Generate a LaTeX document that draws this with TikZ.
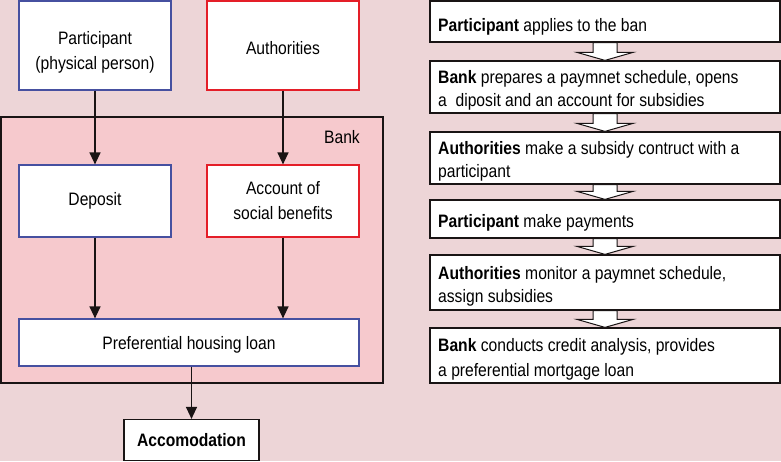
\documentclass[tikz,border=0pt]{standalone}
\usepackage{fontspec}
\setmainfont{Liberation Sans}[FakeStretch=0.87]
\usetikzlibrary{arrows.meta,calc}
\definecolor{bgpink}{RGB}{237,213,215}
\definecolor{bankpink}{RGB}{246,201,205}
\definecolor{bblue}{RGB}{70,80,160}
\definecolor{bred}{RGB}{228,30,40}
\definecolor{lineblack}{RGB}{25,20,20}
\tikzset{
  box/.style={draw, fill=white, line width=1.2pt, inner sep=0pt, align=center,
    font=\fontsize{18}{25}\selectfont},
  bluebox/.style={box, draw=bblue},
  redbox/.style={box, draw=bred},
  blackbox/.style={box, draw=lineblack},
  txt/.style={inner sep=0pt, align=center, font=\fontsize{18}{25}\selectfont},
  stepbox/.style={draw=lineblack, fill=white, line width=1.2pt, inner sep=0pt,
    minimum width=350pt},
  steptxt/.style={anchor=west, inner sep=0pt, align=left,
    font=\fontsize{18}{23}\selectfont},
  conn/.style={draw=lineblack, line width=1.3pt, -{Triangle[width=11pt,length=12pt]}},
  blockarr/.style={draw=lineblack, fill=white, line width=1pt, line join=miter},
}
\newcommand\blockarrow[2]{%
  \path[blockarr] let \p1=(#1.south), \p2=(#2.north) in
    (\x1-12pt,\y1) -- (\x1-12pt,\y2+8pt) -- (\x1-28pt,\y2+8pt) -- (\x1,\y2)
    -- (\x1+28pt,\y2+8pt) -- (\x1+12pt,\y2+8pt) -- (\x1+12pt,\y1) -- cycle;}
\begin{document}
\begin{tikzpicture}[x=1pt,y=-1pt]
\fill[bgpink] (0,0) rectangle (781,461);
\useasboundingbox (0,0) rectangle (781,461);
% Bank container
\node[draw=lineblack, fill=bankpink, line width=1.2pt, inner sep=0pt,
  minimum width=382pt, minimum height=266pt] (bank) at (192,250) {};
\node[anchor=east, inner sep=0pt, font=\fontsize{18}{20}\selectfont] (banklbl) at (360,137.5) {Bank};
% left nodes
\node[bluebox, minimum width=152pt, minimum height=89pt] (part) at (95,45.5) {};
\node[txt] (parttxt) at (95,52) {Participant\\(physical person)};
\node[redbox, minimum width=152pt, minimum height=89pt] (auth) at (283,45.5) {};
\node[txt] (authtxt) at (283,48.5) {Authorities};
\node[bluebox, minimum width=152pt, minimum height=72pt] (dep) at (95,201) {Deposit};
\node[redbox, minimum width=152pt, minimum height=72pt] (acc) at (283,201) {Account of\\social benefits};
\node[bluebox, minimum width=340pt, minimum height=47pt] (loan) at (189,342.5) {};
\node[txt] (loantxt) at (189,344.5) {Preferential housing loan};
\node[blackbox, minimum width=135pt, minimum height=41pt] (accom) at (191.5,440) {\textbf{Accomodation}};
% connectors
\draw[conn] (part.south) -- (dep.north);
\draw[conn] (auth.south) -- (acc.north);
\draw[conn] (dep.south) -- (dep.south |- loan.north);
\draw[conn] (acc.south) -- (acc.south |- loan.north);
\draw[conn] (loan.south -| accom.north) -- (accom.north);
% right steps
\node[stepbox, minimum height=41pt] (s1) at (605,21.5) {};
\node[stepbox, minimum height=52pt] (s2) at (605,87) {};
\node[stepbox, minimum height=52pt] (s3) at (605,158) {};
\node[stepbox, minimum height=38pt] (s4) at (605,219) {};
\node[stepbox, minimum height=55pt] (s5) at (605,282.5) {};
\node[stepbox, minimum height=55pt] (s6) at (605,355.5) {};
\node[steptxt] (t1) at (438,26.5) {\textbf{Participant} applies to the ban};
\node[steptxt] (t2) at (438,90.5) {\textbf{Bank} prepares a paymnet schedule, opens\\a\ \ diposit and an account for subsidies};
\node[steptxt] (t3) at (438,161.5) {\textbf{Authorities} make a subsidy contruct with a\\participant};
\node[steptxt] (t4) at (438,222.5) {\textbf{Participant} make payments};
\node[steptxt] (t5) at (438,286.5) {\textbf{Authorities} monitor a paymnet schedule,\\assign subsidies};
\node[steptxt, font=\fontsize{18}{25}\selectfont] (t6) at (438,359.5) {\textbf{Bank} conducts credit analysis, provides\\a preferential mortgage loan};
\blockarrow{s1}{s2}
\blockarrow{s2}{s3}
\blockarrow{s3}{s4}
\blockarrow{s4}{s5}
\blockarrow{s5}{s6}
\end{tikzpicture}
\end{document}
